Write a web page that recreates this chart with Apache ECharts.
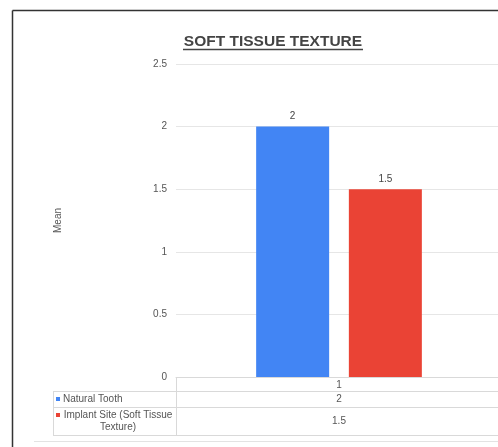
<!DOCTYPE html>
<html>
<head>
<meta charset="utf-8">
<script src="https://cdn.jsdelivr.net/npm/echarts@6/dist/echarts.min.js"></script>
<style>
  html, body { margin: 0; padding: 0; background: #fff; }
  #chart { width: 498px; height: 447px; }
</style>
</head>
<body>
<div id="chart"></div>
<script>
// Mean soft tissue texture scores
const categories = ['1'];
const seriesNames = ['Natural Tooth', 'Implant Site (Soft Tissue\nTexture)'];
const naturalTooth = [2];
const implantSite = [1.5];
const yTicks = { min: 0, max: 2.5, step: 0.5 };
const chartTitle = 'SOFT TISSUE TEXTURE';

const colors = ['#4285f4', '#ea4335'];
const font = 'Liberation Sans, Arial, sans-serif';
const textColor = '#555';
const lineColor = '#d9d9d9';

const chart = echarts.init(document.getElementById('chart'), null, { renderer: 'canvas' });

// data table under the plot: header row, then one row per series
const gridLeft = 176, gridWidth = 326, tableLeft = 53, rightEdge = 498;
const rowHeader = [377, 391], rowA = [391, 407], rowB = [407, 435];
const valueCenterX = gridLeft + gridWidth / 2;

function hLine(x1, x2, y, color) {
  return { type: 'line', silent: true, shape: { x1: x1, y1: y + 0.5, x2: x2, y2: y + 0.5 },
           style: { stroke: color || lineColor, lineWidth: 1 } };
}
function vLine(x, y1, y2) {
  return { type: 'line', silent: true, shape: { x1: x + 0.5, y1: y1, x2: x + 0.5, y2: y2 },
           style: { stroke: lineColor, lineWidth: 1 } };
}
function txt(x, y, s, align) {
  return { type: 'text', silent: true, x: x, y: y,
           style: { text: s, fill: textColor, font: '10px ' + font,
                    align: align || 'center', verticalAlign: 'middle', lineHeight: 12 } };
}

const values = [naturalTooth, implantSite];
const graphics = [
  // outer frame
  { type: 'line', silent: true, shape: { x1: 12.5, y1: 10.5, x2: 498, y2: 10.5 }, style: { stroke: '#333', lineWidth: 1.5 } },
  { type: 'line', silent: true, shape: { x1: 12.5, y1: 10.5, x2: 12.5, y2: 447 }, style: { stroke: '#333', lineWidth: 1.5 } },
  // underlined title
  { type: 'text', silent: true, x: 273, y: 42,
    style: { text: chartTitle, fill: '#444', font: 'bold 15.5px ' + font, align: 'center', verticalAlign: 'middle' } },
  { type: 'line', silent: true, shape: { x1: 183, y1: 49.5, x2: 363, y2: 49.5 }, style: { stroke: '#444', lineWidth: 1.3 } },
  // table rules
  vLine(gridLeft, rowHeader[0], rowB[1]),
  vLine(tableLeft, rowA[0], rowB[1]),
  hLine(tableLeft, rightEdge, rowA[0]),
  hLine(tableLeft, rightEdge, rowB[0]),
  hLine(tableLeft, rightEdge, rowB[1]),
  hLine(34, rightEdge, 441, '#e3e3e3'),
  // legend keys
  { type: 'rect', silent: true, shape: { x: 56, y: (rowA[0] + rowA[1]) / 2 - 2, width: 4, height: 4 }, style: { fill: colors[0] } },
  { type: 'rect', silent: true, shape: { x: 56, y: rowB[0] + 6, width: 4, height: 4 }, style: { fill: colors[1] } },
  txt(63, (rowA[0] + rowA[1]) / 2, seriesNames[0], 'left'),
  txt(118, (rowB[0] + rowB[1]) / 2, seriesNames[1], 'center'),
  txt(valueCenterX, (rowA[0] + rowA[1]) / 2, String(values[0][0])),
  txt(valueCenterX, (rowB[0] + rowB[1]) / 2, String(values[1][0]))
];

const option = {
  backgroundColor: '#fff',
  animation: false,
  textStyle: { fontFamily: font },
  grid: { left: gridLeft, top: 64, width: gridWidth, height: 313, outerBoundsMode: 'none' },
  xAxis: {
    type: 'category',
    data: categories,
    axisTick: { show: false },
    axisLine: { lineStyle: { color: lineColor } },
    axisLabel: { margin: 3, fontSize: 10, color: textColor, fontFamily: font }
  },
  yAxis: {
    type: 'value',
    min: yTicks.min, max: yTicks.max, interval: yTicks.step,
    name: 'Mean',
    nameLocation: 'middle',
    nameGap: 113,
    nameTextStyle: { fontSize: 10, color: textColor, fontFamily: font },
    axisLine: { show: false },
    axisTick: { show: false },
    axisLabel: { margin: 9, fontSize: 10, color: textColor, fontFamily: font },
    splitLine: { lineStyle: { color: '#e6e6e6' } }
  },
  series: [
    {
      name: seriesNames[0], type: 'bar', data: naturalTooth,
      barWidth: 73, barGap: '27%',
      itemStyle: { color: colors[0] },
      label: { show: true, position: 'top', distance: 5, fontSize: 10, color: '#444' }
    },
    {
      name: seriesNames[1], type: 'bar', data: implantSite,
      barWidth: 73,
      itemStyle: { color: colors[1] },
      label: { show: true, position: 'top', distance: 5, fontSize: 10, color: '#444' }
    }
  ],
  graphic: graphics
};

chart.setOption(option);
</script>
</body>
</html>
